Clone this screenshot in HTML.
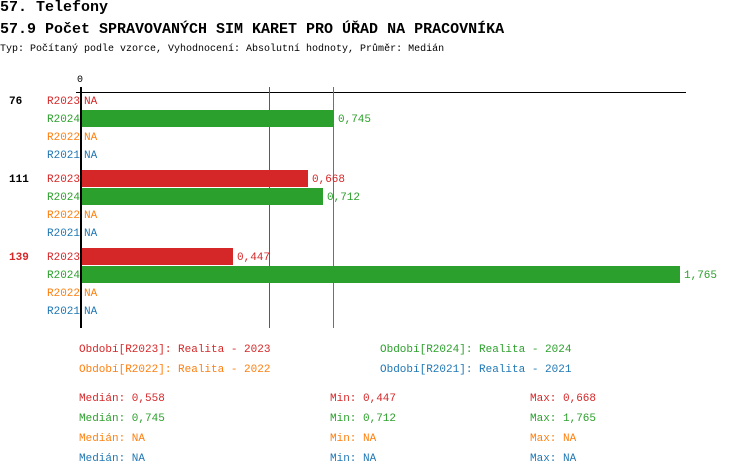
<!DOCTYPE html><html><head><meta charset="utf-8"><style>
body{margin:0;background:#fff;width:750px;height:476px;overflow:hidden;font-family:"Liberation Mono",monospace}
.t{position:absolute;white-space:nowrap;font-size:11px}
.r{color:#d62728}.g{color:#2ca02c}.o{color:#ff7f0e}.b{color:#1f77b4}
.bar{position:absolute;height:17px}
</style></head><body>
<div class="t" style="left:0;top:-1px;font-size:15px;font-weight:bold">57. Telefony</div>
<div class="t" style="left:0;top:21px;font-size:15px;font-weight:bold">57.9 Počet SPRAVOVANÝCH SIM KARET PRO ÚŘAD NA PRACOVNÍKA</div>
<div class="t" style="left:0;top:44px;font-size:10px">Typ: Počítaný podle vzorce, Vyhodnocení: Absolutní hodnoty, Průměr: Medián</div>
<div class="t" style="left:77px;top:75px;font-size:10px">0</div>
<div style="position:absolute;left:76px;top:92px;width:610px;height:1px;background:#000"></div>
<div style="position:absolute;left:80px;top:87px;width:2px;height:241px;background:#000"></div>
<div style="position:absolute;left:269px;top:87px;width:1px;height:241px;background:#d62728"></div>
<div style="position:absolute;left:333px;top:87px;width:1px;height:241px;background:#2ca02c"></div>

<div class="t" style="left:9px;top:96px;font-weight:bold">76</div>
<div class="t r" style="left:47px;top:96px">R2023</div><div class="t r" style="left:84px;top:96px">NA</div>
<div class="t g" style="left:47px;top:114px">R2024</div><div class="bar" style="left:82px;top:110px;width:251px;background:#2ca02c"></div><div class="t g" style="left:338px;top:114px">0,745</div>
<div class="t o" style="left:47px;top:132px">R2022</div><div class="t o" style="left:84px;top:132px">NA</div>
<div class="t b" style="left:47px;top:150px">R2021</div><div class="t b" style="left:84px;top:150px">NA</div>

<div class="t" style="left:9px;top:174px;font-weight:bold">111</div>
<div class="t r" style="left:47px;top:174px">R2023</div><div class="bar" style="left:82px;top:170px;width:226px;background:#d62728"></div><div class="t r" style="left:312px;top:174px">0,668</div>
<div class="t g" style="left:47px;top:192px">R2024</div><div class="bar" style="left:82px;top:188px;width:241px;background:#2ca02c"></div><div class="t g" style="left:327px;top:192px">0,712</div>
<div class="t o" style="left:47px;top:210px">R2022</div><div class="t o" style="left:84px;top:210px">NA</div>
<div class="t b" style="left:47px;top:228px">R2021</div><div class="t b" style="left:84px;top:228px">NA</div>

<div class="t r" style="left:9px;top:252px;font-weight:bold">139</div>
<div class="t r" style="left:47px;top:252px">R2023</div><div class="bar" style="left:82px;top:248px;width:151px;background:#d62728"></div><div class="t r" style="left:237px;top:252px">0,447</div>
<div class="t g" style="left:47px;top:270px">R2024</div><div class="bar" style="left:82px;top:266px;width:598px;background:#2ca02c"></div><div class="t g" style="left:684px;top:270px">1,765</div>
<div class="t o" style="left:47px;top:288px">R2022</div><div class="t o" style="left:84px;top:288px">NA</div>
<div class="t b" style="left:47px;top:306px">R2021</div><div class="t b" style="left:84px;top:306px">NA</div>

<div class="t r" style="left:79px;top:344px">Období[R2023]: Realita - 2023</div>
<div class="t g" style="left:380px;top:344px">Období[R2024]: Realita - 2024</div>
<div class="t o" style="left:79px;top:364px">Období[R2022]: Realita - 2022</div>
<div class="t b" style="left:380px;top:364px">Období[R2021]: Realita - 2021</div>

<div class="t r" style="left:79px;top:393px">Medián: 0,558</div><div class="t r" style="left:330px;top:393px">Min: 0,447</div><div class="t r" style="left:530px;top:393px">Max: 0,668</div>
<div class="t g" style="left:79px;top:413px">Medián: 0,745</div><div class="t g" style="left:330px;top:413px">Min: 0,712</div><div class="t g" style="left:530px;top:413px">Max: 1,765</div>
<div class="t o" style="left:79px;top:433px">Medián: NA</div><div class="t o" style="left:330px;top:433px">Min: NA</div><div class="t o" style="left:530px;top:433px">Max: NA</div>
<div class="t b" style="left:79px;top:453px">Medián: NA</div><div class="t b" style="left:330px;top:453px">Min: NA</div><div class="t b" style="left:530px;top:453px">Max: NA</div>
</body></html>
